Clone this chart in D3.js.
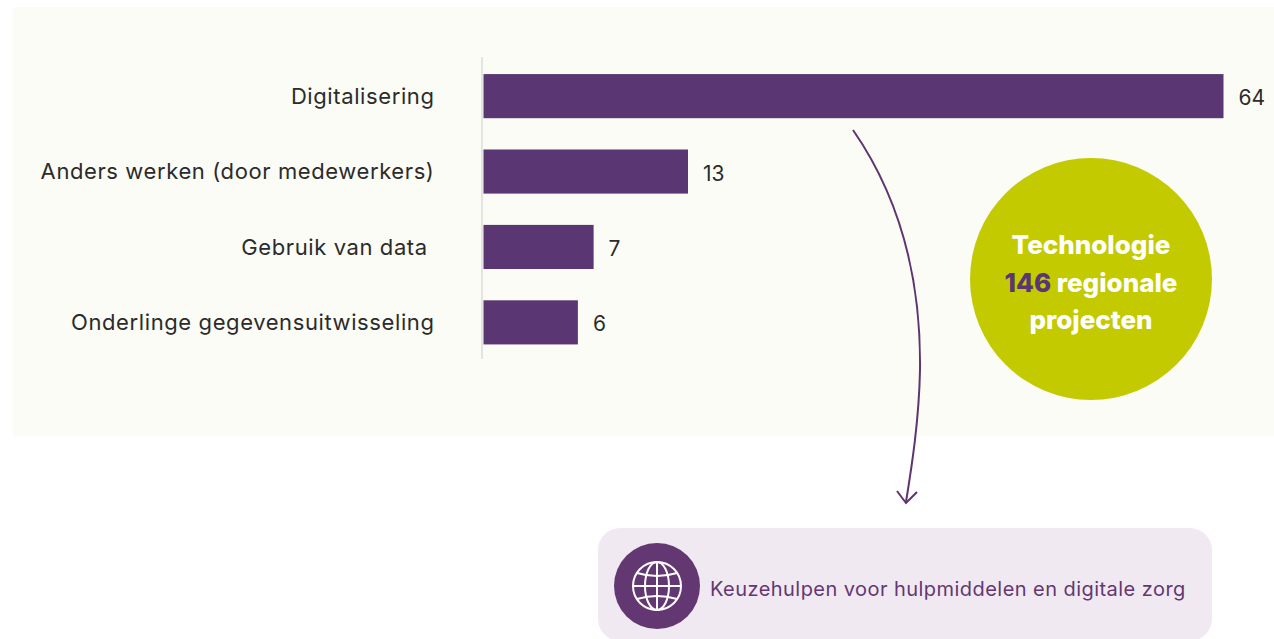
<!DOCTYPE html>
<html lang="nl">
<head>
<meta charset="UTF-8">
<title>Technologie</title>
<script src="https://d3js.org/d3.v7.min.js"></script>
<style>
  html, body { margin: 0; padding: 0; background: #fff; }
  svg { display: block; }
  text { font-family: Inter, "Open Sans", sans-serif; }
  .tick text { white-space: pre; }
</style>
</head>
<body>
<svg width="1274" height="639"></svg>
<script>
const categories = ["Digitalisering", "Anders werken (door medewerkers)", "Gebruik van data ", "Onderlinge gegevensuitwisseling"];
const values = [64, 13, 7, 6];
const circleLines = ["Technologie", "regionale", "projecten"];
const circleCount = 146;
const noteText = "Keuzehulpen voor hulpmiddelen en digitale zorg";

const purple = "#5a3672";
const svg = d3.select("svg");

// panel behind the chart
svg.append("rect").attr("x", 13).attr("y", 7).attr("width", 1261).attr("height", 429).attr("fill", "#fbfcf6");

// the 64 bar is drawn shorter than its value in the original, so the scale has a break at 13
const x = d3.scaleLinear().domain([0, 13, 64]).range([483.5, 688, 1223.5]);
const y = d3.scaleBand().domain(categories).range([59, 359.5]).paddingInner(0.415).paddingOuter(0.2);

const yAxis = d3.axisLeft(y).tickSize(0).tickPadding(47.5);
const axisG = svg.append("g").attr("transform", "translate(482,0)").call(yAxis);
axisG.select(".domain").remove();
axisG.selectAll("text")
    .attr("fill", "#2b2b2b")
    .style("font-family", "Inter, sans-serif")
    .style("font-size", "22px")
    .style("letter-spacing", "0.6px")
    .attr("dy", "0.36em");

svg.append("line").attr("x1", 482).attr("x2", 482).attr("y1", 57).attr("y2", 359)
    .attr("stroke", "#e4e4e0").attr("stroke-width", 2);

svg.append("g").selectAll("rect")
    .data(values)
    .enter().append("rect")
    .attr("x", x(0))
    .attr("y", (d, i) => y(categories[i]))
    .attr("width", d => x(d) - x(0))
    .attr("height", y.bandwidth())
    .attr("fill", purple);

svg.append("g").selectAll("text")
    .data(values)
    .enter().append("text")
    .attr("x", d => x(d) + 15)
    .attr("y", (d, i) => y(categories[i]) + y.bandwidth() / 2 + 9)
    .attr("fill", "#2b2b2b")
    .style("font-size", "21px")
    .text(d => d);

// arrow
const arrow = svg.append("g").attr("fill", "none").attr("stroke", "#5f3570").attr("stroke-width", 2);
arrow.append("path").attr("d", "M853,130 C905,205 921,290 920,370 C919,420 912,465 906,502");
arrow.append("path").attr("d", "M897,491 L906,503 L917,492");

// circle
svg.append("circle").attr("cx", 1091).attr("cy", 279).attr("r", 121).attr("fill", "#c4ca00");
const circleText = svg.append("g").attr("text-anchor", "middle").attr("fill", "#fff")
    .style("font-size", "26px").style("font-weight", 800);
circleText.append("text").attr("x", 1091).attr("y", 254).text(circleLines[0]);
const mid = circleText.append("text").attr("x", 1091).attr("y", 292);
mid.append("tspan").attr("fill", purple).text(circleCount);
mid.append("tspan").text(" " + circleLines[1]);
circleText.append("text").attr("x", 1091).attr("y", 329).text(circleLines[2]);

// note box
svg.append("rect").attr("x", 598).attr("y", 528).attr("width", 614).attr("height", 113).attr("rx", 22).attr("fill", "#f1e9f1");
svg.append("circle").attr("cx", 657).attr("cy", 586).attr("r", 43).attr("fill", "#633771");
svg.append("text").attr("x", 710).attr("y", 596).attr("fill", "#633771")
    .style("font-size", "20px").style("letter-spacing", "0.45px").text(noteText);

// globe icon
const globe = svg.append("g").attr("transform", "translate(657,586)")
    .attr("fill", "none").attr("stroke", "#fff").attr("stroke-width", 2);
const r = 24;
globe.append("circle").attr("r", r);
globe.append("ellipse").attr("rx", 12).attr("ry", r);
globe.append("line").attr("y1", -r).attr("y2", r);
globe.append("line").attr("x1", -r).attr("x2", r);
globe.append("path").attr("d", "M-20,-13 Q0,-7 20,-13");
globe.append("path").attr("d", "M-20,13 Q0,7 20,13");
</script>
</body>
</html>
